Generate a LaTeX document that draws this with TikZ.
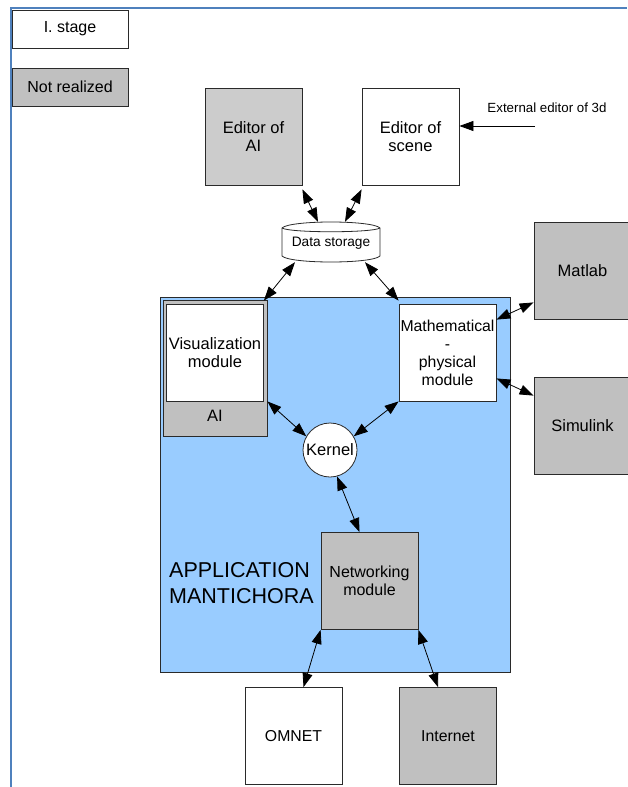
\documentclass[tikz,border=0pt]{standalone}
\usepackage{fontspec}
\setmainfont{Liberation Sans}
\usetikzlibrary{arrows.meta}
\definecolor{framecol}{HTML}{4F81BD}
\definecolor{notreal}{HTML}{C0C0C0}
\definecolor{lightgrey}{HTML}{CCCCCC}
\definecolor{appblue}{HTML}{99CCFF}
\definecolor{edge}{HTML}{2A2A2A}
\tikzset{
  box/.style={draw=edge, line width=0.8pt, fill=white, minimum width=97pt, minimum height=97pt,
    inner sep=0pt, align=center, font=\fontsize{16.5}{18.5}\selectfont},
  grey/.style={fill=notreal},
  legend/.style={draw=edge, line width=0.8pt, minimum width=116pt, minimum height=38pt,
    inner sep=1pt, font=\fontsize{16}{18}\selectfont},
  link/.style={line width=0.8pt, {Triangle[length=14pt,width=10pt]}-{Triangle[length=14pt,width=10pt]}},
  frame/.style={draw=framecol, line width=2.6pt},
}
\begin{document}
\begin{tikzpicture}[x=1pt,y=-1pt]
\useasboundingbox (0,0) rectangle (627,787);
% page frame
\draw[frame] (11,787) -- (11,8) -- (627,8);

% legend
\node[legend, fill=white] (stage) at (70,29) {I. stage};
\node[legend, grey] (notr) at (70,87) {Not realized};

% editors
\node[box, fill=lightgrey] (edai) at (253.5,136.5) {Editor of\\AI};
\node[box] (edsc) at (410.5,136.5) {Editor of\\scene};
\node[font=\fontsize{13.3}{15}\selectfont] (ext) at (547,108) {External editor of 3d};
\coordinate (extstart) at (535,126);

% data storage cylinder
\draw[draw=edge, line width=0.8pt, fill=white]
  (282,228) .. controls (290,220) and (372,220) .. (380,228)
  -- (380,256) .. controls (372,264) and (290,264) .. (282,256) -- cycle;
\draw[draw=edge, line width=0.8pt] (282,228) .. controls (290,233) and (372,233) .. (380,228);
\node[minimum width=98pt, minimum height=40pt, inner sep=0pt, font=\fontsize{13.7}{15}\selectfont,
  text depth=-2pt] (ds) at (331,242) {Data storage};

% application area
\node[draw=edge, line width=0.8pt, fill=appblue, minimum width=350pt, minimum height=375pt, inner sep=0pt]
  (app) at (335,484.5) {};
\node[align=left, anchor=west, inner sep=0pt, font=\fontsize{21.5}{26}\selectfont]
  (apptext) at (169,583) {APPLICATION\\MANTICHORA};

% AI container with visualization module
\node[draw=edge, line width=0.8pt, fill=notreal, minimum width=104pt, minimum height=136pt, inner sep=0pt]
  (aibox) at (215,368) {};
\node[box] (vis) at (215,352.5) {Visualization\\module};
\node[font=\fontsize{16.5}{18}\selectfont] (ailabel) at (215,416) {AI};

\node[box, font=\fontsize{15.8}{18}\selectfont] (math) at (447.5,352.5) {Mathematical\\-\\physical\\module};
\node[draw=edge, line width=0.8pt, fill=white, circle, minimum size=54pt, inner sep=0pt,
  font=\fontsize{16.5}{18}\selectfont] (kernel) at (330,450) {Kernel};
\node[box, grey, font=\fontsize{16}{18.5}\selectfont] (net) at (369.5,581) {Networking\\module};

% external tools
\node[box, grey] (matlab) at (582.5,270.5) {Matlab};
\node[box, grey] (simulink) at (582.5,425.5) {Simulink};
\node[box, font=\fontsize{15.8}{18}\selectfont] (omnet) at (293.5,736) {OMNET};
\node[box, grey, font=\fontsize{15.8}{18}\selectfont] (inet) at (448,736) {Internet};

% connections
\draw[line width=0.8pt, -{Triangle[length=14pt,width=10pt]}] (extstart) -- (extstart -| edsc.east);
\draw[link] ([yshift=-4pt]edai.south east) -- ([xshift=-13pt]ds.north);
\draw[link] ([yshift=-4pt]edsc.south west) -- ([xshift=14pt]ds.north);
\draw[link] ([xshift=-36pt]ds.south) -- ([yshift=3pt]vis.north east);
\draw[link] ([xshift=34pt]ds.south) -- ([yshift=3pt]math.north west);
\draw[link] ([yshift=17pt]matlab.south west) -- ([yshift=-16pt]math.north east);
\draw[link] ([yshift=-19pt]simulink.north west) -- ([yshift=23pt]math.south east);
\draw[link] (vis.south east -| aibox.east) -- (kernel.150);
\draw[link] (math.south west) -- (kernel.30);
\draw[link] (kernel.-75) -- ([xshift=-10pt]net.north);
\draw[link] (net.south west) -- ([xshift=10pt]omnet.north);
\draw[link] (net.south east) -- ([xshift=-10pt]inet.north);
\end{tikzpicture}
\end{document}
